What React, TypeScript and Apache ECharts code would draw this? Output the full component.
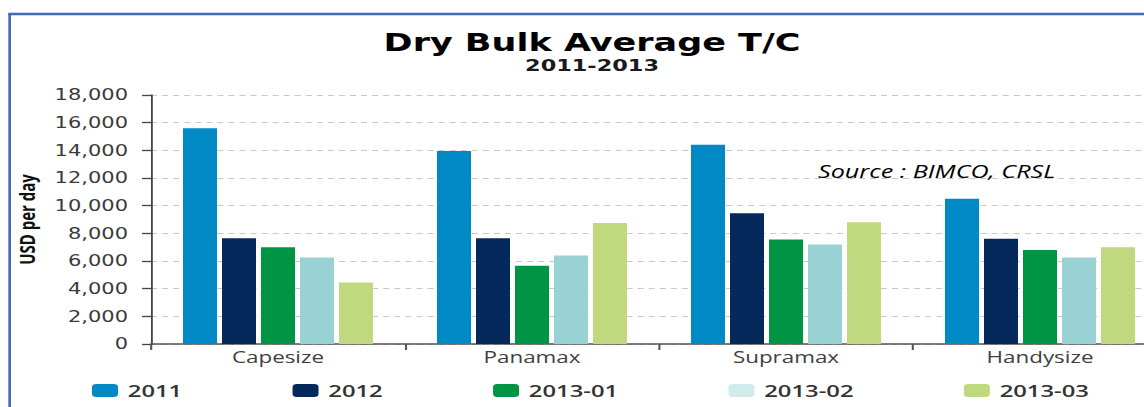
import React, { useEffect, useRef } from "react";
import * as echarts from "echarts";

const categories = ["Capesize", "Panamax", "Supramax", "Handysize"];
const seriesNames = ["2011", "2012", "2013-01", "2013-02", "2013-03"];
const v2011 = [15600, 13950, 14400, 10500];
const v2012 = [7650, 7650, 9450, 7600];
const v201301 = [7000, 5650, 7550, 6800];
const v201302 = [6250, 6400, 7200, 6250];
const v201303 = [4450, 8750, 8800, 7000];
const seriesValues = [v2011, v2012, v201301, v201302, v201303];
const barColors = ["#0189c6", "#05295a", "#009445", "#99d2d4", "#c1d97e"];
const legendColors = ["#0189c6", "#05295a", "#009445", "#d0ebec", "#c1d97e"];

const S = 1.4; // horizontal stretch of the reference
const W = 840;
const H = 407;

export default function App() {
  const ref = useRef<HTMLDivElement>(null);
  useEffect(() => {
    if (!ref.current) return;
    const chart = echarts.init(ref.current, null, { renderer: "svg" });
    const option = {
      animation: false,
      backgroundColor: "#ffffff",
      title: [
        {
          text: "Dry Bulk Average T/C",
          left: 592 / S,
          top: 30,
          textAlign: "center",
          padding: 0,
          textStyle: { fontFamily: "DejaVu Sans", fontWeight: "bold", fontSize: 25, color: "#000" },
        },
        {
          text: "2011-2013",
          left: 592 / S,
          top: 58,
          textAlign: "center",
          padding: 0,
          textStyle: { fontFamily: "DejaVu Sans", fontWeight: "bold", fontSize: 16, color: "#1a1a1a" },
        },
      ],
      graphic: [
        { type: "line", shape: { x1: 6.9, y1: 13, x2: 6.9, y2: H }, style: { stroke: "#4169b8", lineWidth: 1.9 } },
        { type: "line", shape: { x1: 6, y1: 14, x2: W, y2: 14 }, style: { stroke: "#4169b8", lineWidth: 2.6 } },
        {
          type: "text",
          x: 818 / S,
          y: 171,
          style: {
            text: "Source : BIMCO, CRSL",
            fontFamily: "Open Sans",
            fontStyle: "italic",
            fontSize: 18,
            fill: "#000",
            align: "left",
            verticalAlign: "middle",
          },
        },
      ],
      legend: {
        left: 92 / S,
        top: 382,
        padding: 0,
        itemWidth: 26 / S,
        itemHeight: 13,
        itemGap: 110.3 / S,
        data: seriesNames.map((n, i) => ({ name: n, itemStyle: { color: legendColors[i] } })),
        textStyle: { fontFamily: "Open Sans", fontWeight: 600, fontSize: 17, color: "#333", padding: [0, 0, 0, 2] },
      },
      grid: { left: 151 / S, right: W - 1167 / S, top: 95, bottom: H - 344, containLabel: false },
      xAxis: {
        type: "category",
        data: categories,
        axisLine: { lineStyle: { color: "#555", width: 1.5 } },
        axisTick: { show: true, length: 6, lineStyle: { color: "#555", width: 1.5 } },
        axisLabel: { fontFamily: "Open Sans", fontSize: 16, color: "#404040", margin: 5 },
      },
      yAxis: {
        type: "value",
        min: 0,
        max: 18000,
        interval: 2000,
        name: "USD per day",
        nameLocation: "middle",
        nameRotate: 90,
        nameGap: 81,
        nameTextStyle: { fontFamily: "Open Sans", fontWeight: 700, fontSize: 15, color: "#111" },
        axisLine: { show: true, lineStyle: { color: "#444", width: 1.3 } },
        axisTick: { show: true, length: 9 / S, lineStyle: { color: "#444", width: 1.3 } },
        axisLabel: {
          fontFamily: "DejaVu Sans",
          fontSize: 15,
          color: "#3a3a3a",
          margin: 16.4,
          formatter: (v: number) => v.toLocaleString("en-US"),
        },
        splitLine: { lineStyle: { color: "#c8c8c8", type: [4.3, 3.6], width: 1 } },
      },
      series: seriesNames.map((n, i) => ({
        name: n,
        type: "bar",
        data: seriesValues[i],
        barWidth: 34 / S,
        barGap: "14.7%",
        itemStyle: { color: barColors[i] },
      })),
    };
    chart.setOption(option as any);
    return () => chart.dispose();
  }, []);
  return (
    <div style={{ position: "fixed", left: 0, top: 0, width: 1144, height: H, overflow: "hidden", background: "#fff" }}>
      <div
        ref={ref}
        style={{ width: W, height: H, transform: `scaleX(${S})`, transformOrigin: "0 0" }}
      />
    </div>
  );
}
